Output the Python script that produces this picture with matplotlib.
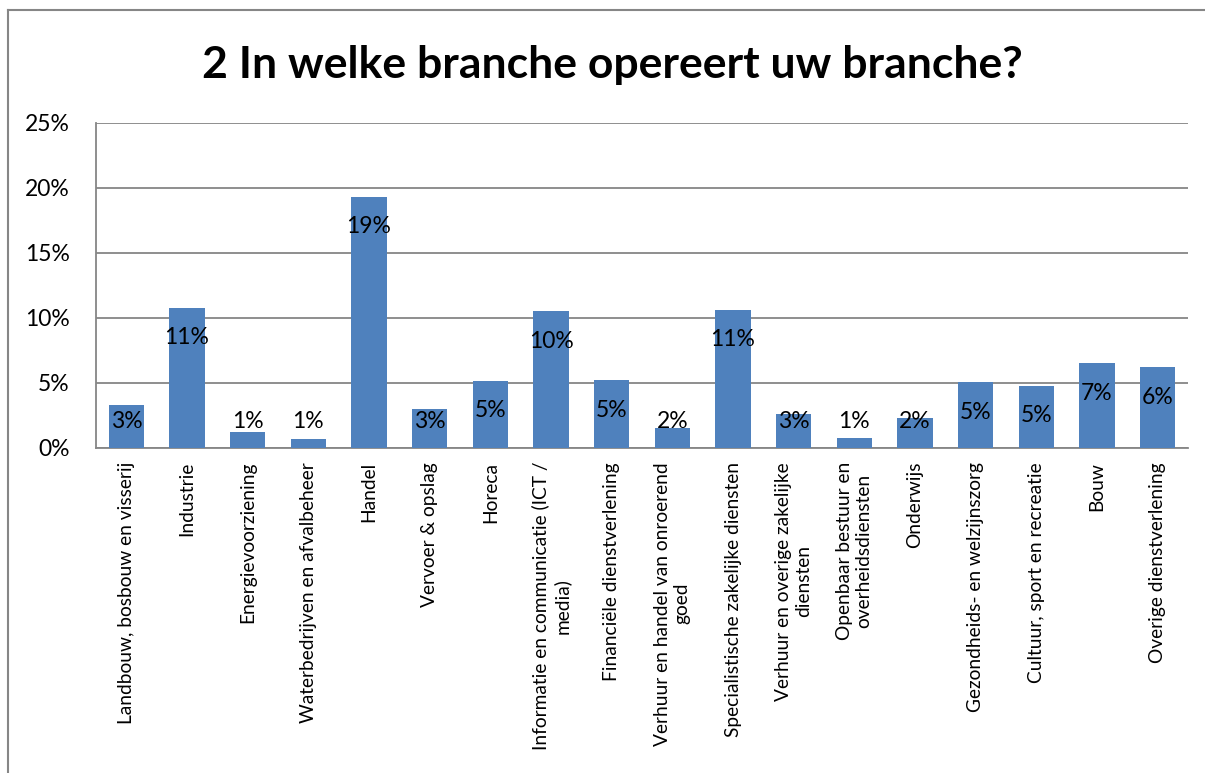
import matplotlib.pyplot as plt
from matplotlib.lines import Line2D

categories = [
    "Landbouw, bosbouw en visserij",
    "Industrie",
    "Energievoorziening",
    "Waterbedrijven en afvalbeheer",
    "Handel",
    "Vervoer & opslag",
    "Horeca",
    "Informatie en communicatie (ICT /\nmedia)",
    "Financiële dienstverlening",
    "Verhuur en handel van onroerend\ngoed",
    "Specialistische zakelijke diensten",
    "Verhuur en overige zakelijke\ndiensten",
    "Openbaar bestuur en\noverheidsdiensten",
    "Onderwijs",
    "Gezondheids- en welzijnszorg",
    "Cultuur, sport en recreatie",
    "Bouw",
    "Overige dienstverlening",
]
values = [3.3, 10.8, 1.2, 0.7, 19.3, 3.0, 5.15, 10.5, 5.2, 1.55,
          10.65, 2.65, 0.8, 2.3, 5.05, 4.8, 6.5, 6.2]
labels = ["3%", "11%", "1%", "1%", "19%", "3%", "5%", "10%", "5%", "2%",
          "11%", "3%", "1%", "2%", "5%", "5%", "7%", "6%"]
yticks = [0, 5, 10, 15, 20, 25]

plt.rcParams['font.family'] = ['Lato', 'DejaVu Sans']

fig = plt.figure(figsize=(12.05, 7.73), dpi=100)
ax = fig.add_axes([96 / 1205, 1 - 448 / 773, 1092 / 1205, 325 / 773])

x = range(len(categories))
ax.bar(x, values, width=0.58, color='#4F81BD', zorder=3)

for i, v in enumerate(values):
    ax.text(i, max(v - 2.3, 2.0), labels[i], ha='center', va='center',
            fontsize=16.5, color='black', zorder=4)

ax.set_xlim(-0.5, len(categories) - 0.5)
ax.set_ylim(0, 25)
ax.set_yticks(yticks)
ax.set_yticklabels([f"{t}%" for t in yticks], fontsize=16.5)
ax.set_xticks(list(x))
ax.set_xticklabels(categories, rotation=90, fontsize=13.8, ha='center',
                   va='top', multialignment='center')
ax.tick_params(axis='y', length=0, pad=19)
ax.tick_params(axis='x', length=0, pad=10)
ax.yaxis.grid(True, color='#868686', linewidth=1.3, zorder=0)

for s in ['top', 'right']:
    ax.spines[s].set_visible(False)
ax.spines['left'].set_color('#868686')
ax.spines['left'].set_linewidth(1.3)
ax.spines['bottom'].set_color('#868686')
ax.spines['bottom'].set_linewidth(1.3)

fig.text(612 / 1205, 1 - 65 / 773, "2 In welke branche opereert uw branche?",
         ha='center', va='center', fontsize=32, fontweight='bold')

# chart frame (only top and left edges visible in the crop)
fig.add_artist(Line2D([8 / 1205, 8 / 1205], [0, 1 - 10 / 773],
                      color='#868686', linewidth=1.5))
fig.add_artist(Line2D([8 / 1205, 1], [1 - 10 / 773, 1 - 10 / 773],
                      color='#868686', linewidth=1.5))

fig.savefig('out.png', dpi=100, facecolor='white')
